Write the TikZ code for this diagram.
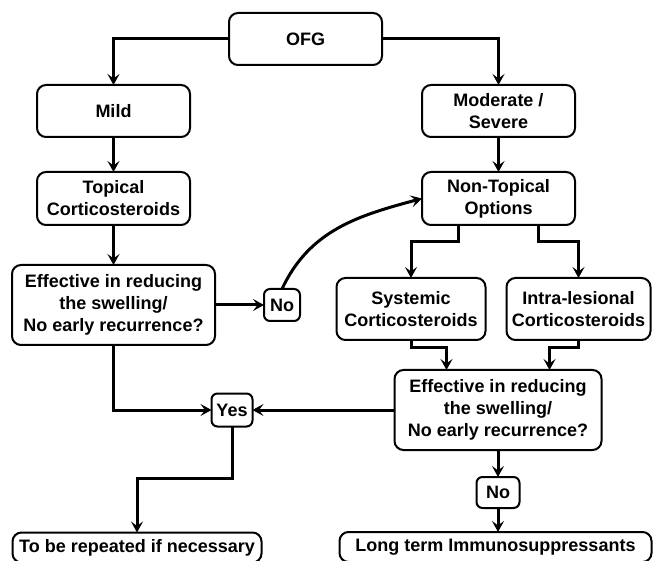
\documentclass[tikz,border=0pt]{standalone}
\usepackage{fontspec}
\setmainfont{Liberation Sans}
\usepackage{tikz}
\usetikzlibrary{positioning,arrows.meta}
\tikzset{
	my box/.style = {rectangle, draw, rounded corners=9pt, line width=2pt, outer sep=0pt, align=center, inner sep=2pt, font=\bfseries\fontsize{18}{22}\selectfont}, % the big rounded boxes
	my tag/.style = {my box, rounded corners=6pt}, % the small yes / no boxes
	my edge/.style = {-{Stealth[length=11pt,width=12pt,inset=4.5pt]}, line width=3pt}
}
\begin{document}
\begin{tikzpicture}[x=1pt,y=1pt]
	\tikzset{wide/.style = {minimum width=153pt, minimum height=52pt}}
	\useasboundingbox (0,0) rectangle (653,560);
	\node[my box,wide] (ofg) at (305.5,521) {OFG};
	\node[my box,wide] (mild) [below left=20pt and 39pt of ofg] {Mild};
	\node[my box,wide] (sev) [below right=20pt and 40pt of ofg] {Moderate /\\Severe};
	\node[my box,wide,minimum height=53pt] (top) [below=35pt of mild] {Topical\\Corticosteroids};
	\node[my box,wide,minimum height=53pt] (nontop) [below=35pt of sev] {Non-Topical\\Options};
	\node[my box,minimum width=203pt,minimum height=80pt] (effL) [below=40pt of top] {Effective in reducing\\the swelling/\\No early recurrence?};
	\node[my tag,minimum width=36pt,minimum height=32pt] (noL) [right=49pt of effL] {No};
	\node[my box,minimum width=149pt,minimum height=62pt] (sys) [below=53pt of nontop, xshift=-87.5pt] {Systemic\\Corticosteroids};
	\node[my box,minimum width=144pt,minimum height=62pt] (intra) [right=21pt of sys] {Intra-lesional\\Corticosteroids};
	\node[my box,minimum width=207pt,minimum height=80pt] (effR) [below=30pt of sys, xshift=87pt] {Effective in reducing\\the swelling/\\No early recurrence?};
	\node[my tag,minimum width=41pt,minimum height=33pt] (yes) [left=142pt of effR] {Yes};
	\node[my tag,minimum width=43pt,minimum height=31pt] (noR) [below=27pt of effR] {No};
	\node[my box,minimum width=249pt,minimum height=30pt] (rep) [below=106pt of yes, xshift=-95pt] {To be repeated if necessary};
	\node[my box,minimum width=312pt,minimum height=30pt] (long) [below=24pt of noR, xshift=-2.5pt] {Long term Immunosuppressants};
	\draw[my edge] (ofg.west) -| (mild.north);
	\draw[my edge] (ofg.east) -| (sev.north);
	\draw[my edge] (mild) -- (top);
	\draw[my edge] (sev) -- (nontop);
	\draw[my edge] (top) -- (effL);
	\draw[my edge] (effL.east) -- (noL.west);
	\draw[my edge] (noL.north) to[out=65,in=195] (nontop.west);
	\draw[my edge] ([xshift=-40pt]nontop.south) -- ++(0,-17) -| (sys.north);
	\draw[my edge] ([xshift=40pt]nontop.south) -- ++(0,-17) -| (intra.north);
	\draw[my edge] (sys.south) -- ++(0,-8) -| ([xshift=-51.5pt]effR.north);
	\draw[my edge] (intra.south) -- ++(0,-8) -| ([xshift=51.5pt]effR.north);
	\draw[my edge] (effL.south) |- (yes.west);
	\draw[my edge] (effR.west) -- (yes.east);
	\draw[my edge] (yes.south) -- ++(0,-52) -| (rep.north);
	\draw[my edge] (effR) -- (noR);
	\draw[my edge] (noR.south) -- (noR.south |- long.north);
\end{tikzpicture}
\end{document}
